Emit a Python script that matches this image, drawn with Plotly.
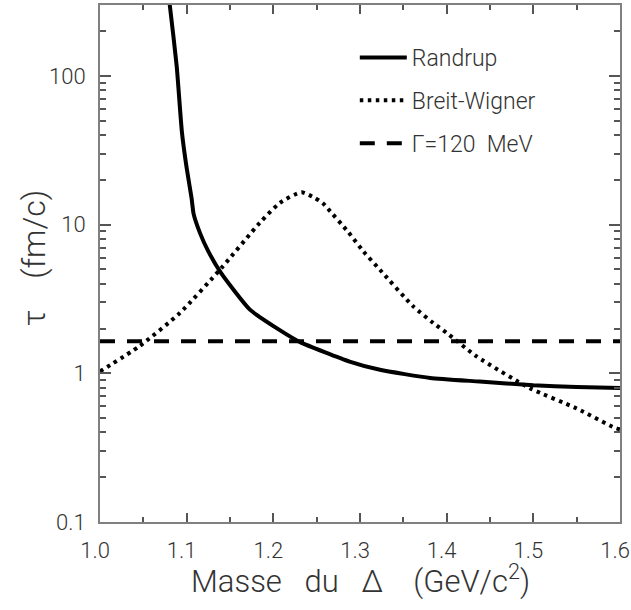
import plotly.graph_objects as go

# Randrup curve (solid)
randrup_x = [1.0790, 1.0805, 1.0885, 1.0945, 1.1000, 1.1057, 1.1080, 1.1153, 1.1250, 1.1400,
             1.1730, 1.2070, 1.2310, 1.2880, 1.3230, 1.3810, 1.4380, 1.5000, 1.5500, 1.6000]
randrup_y = [340, 300, 116, 42, 24, 15, 11.8, 8.8, 6.6, 4.7,
             2.68, 1.96, 1.62, 1.20, 1.056, 0.93, 0.88, 0.83, 0.81, 0.795]

# Breit-Wigner curve (dotted)
bw_x = [1.000, 1.046, 1.092, 1.140, 1.1845, 1.2076, 1.2326, 1.2480, 1.2568, 1.2630,
        1.2865, 1.3040, 1.3230, 1.3614, 1.3845, 1.4000, 1.4345, 1.4960, 1.5500, 1.5940, 1.6000]
bw_y = [1.03, 1.53, 2.54, 5.1, 10.3, 14.0, 16.5, 15.1, 14.0, 12.8,
        8.9, 6.6, 4.97, 2.82, 2.18, 1.87, 1.30, 0.795, 0.58, 0.43, 0.42]

# Constant width Gamma = 120 MeV (dashed)
gamma_x = [1.0, 1.6]
gamma_y = [1.64, 1.64]

names = ["Randrup", "Breit-Wigner", "\u0393=120  MeV"]

y_tickvals = [0.1, 1, 10, 100]
y_ticktext = ["0.1", "1", "10", "100"]
y_minor = [0.2, 0.3, 0.4, 0.5, 0.6, 0.7, 0.8, 0.9,
           2, 3, 4, 5, 6, 7, 8, 9,
           20, 30, 40, 50, 60, 70, 80, 90, 200, 300]
x_tickvals = [1.0, 1.1, 1.2, 1.3, 1.4, 1.5, 1.6]
x_ticktext = ["1.0", "1.1", "1.2", "1.3", "1.4", "1.5", "1.6"]

x_title = "Masse   du   \u0394    (GeV/c<sup>2</sup>)"
y_title = "\u03c4    (fm/c)"

FONT = "Roboto"
W = 300
TXT = "#333333"
AX = "#808080"

fig = go.Figure()
fig.add_trace(go.Scatter(x=randrup_x, y=randrup_y, mode="lines", name=names[0],
                         legendgroup="a", line=dict(color="black", width=4, shape="spline", smoothing=0.5)))
fig.add_trace(go.Scatter(x=bw_x, y=bw_y, mode="lines", name=names[1],
                         legendgroup="b", line=dict(color="black", width=4, dash="3.5px,4.5px", shape="spline", smoothing=0.6)))
fig.add_trace(go.Scatter(x=gamma_x, y=gamma_y, mode="lines", name=names[2],
                         legendgroup="c", line=dict(color="black", width=4, dash="15px,12px")))

axis_common = dict(showline=True, linecolor=AX, linewidth=2, mirror="ticks",
                   ticks="inside", tickcolor="#555", tickwidth=1.5, showgrid=False,
                   zeroline=False, automargin=False,
                   tickfont=dict(family=FONT, size=22, color=TXT, weight=W))

fig.update_xaxes(range=[1.0, 1.6], tickvals=x_tickvals, ticktext=x_ticktext, ticklen=9,
                 ticklabelstandoff=8, ticklabelshift=-5,
                 minor=dict(dtick=0.05, tick0=1.0, ticks="inside", ticklen=5, tickcolor="#555", tickwidth=1.5),
                 **axis_common)
fig.update_yaxes(type="log", range=[-1, 2.477], tickvals=y_tickvals, ticktext=y_ticktext, ticklen=11,
                 ticklabelstandoff=8,
                 minor=dict(tickvals=y_minor, ticks="inside", ticklen=6, tickcolor="#555", tickwidth=1.5),
                 **axis_common)

fig.add_annotation(text=x_title, xref="paper", yref="paper", x=0.5, y=-0.112,
                   xanchor="center", yanchor="middle", showarrow=False,
                   font=dict(family=FONT, size=31, color=TXT, weight=W))
fig.add_annotation(text=y_title, xref="paper", yref="paper", x=-0.127, y=0.51,
                   xanchor="center", yanchor="middle", showarrow=False, textangle=-90,
                   font=dict(family=FONT, size=32, color=TXT, weight=W))

fig.update_layout(
    width=631, height=610,
    margin=dict(l=100, r=11, t=5, b=88),
    plot_bgcolor="white", paper_bgcolor="white",
    showlegend=True,
    legend=dict(x=0.49, y=0.94, xanchor="left", yanchor="top",
                bgcolor="rgba(0,0,0,0)", tracegroupgap=10, itemwidth=47,
                font=dict(family=FONT, size=23, color=TXT, weight=W)),
)

fig.write_html("out.html", config={"displayModeBar": False},
               post_script="document.body.style.margin='0';")
